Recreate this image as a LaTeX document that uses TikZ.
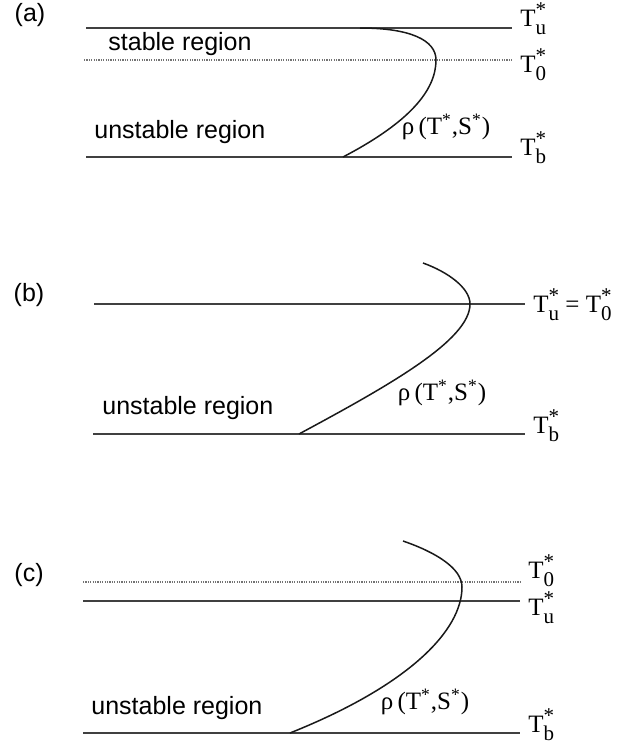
\documentclass[tikz,border=0pt]{standalone}
\usepackage{fontspec}
\setmainfont{Liberation Serif}
\newfontfamily\regionfont{Liberation Sans}

\newcommand{\Tst}[1]{T\rlap{\raisebox{4.6pt}{\fontsize{10.5}{10.5}\selectfont *}}\raisebox{-4pt}{\fontsize{10.5}{10.5}\selectfont #1}}
\newcommand{\rhoTS}{ρ\,(T\textsuperscript{*},S\textsuperscript{*})}

\begin{document}
\begin{tikzpicture}[
			x=0.5pt,
			y=-0.5pt,
			level/.style={
				line width=0.8pt,
				draw=black!75
			},
			dotlevel/.style={
				line width=0.7pt,
				draw=black!55,
				dash pattern=on 0.6pt off 0.6pt
			},
			rhocurve/.style={
				line width=0.75pt,
				draw=black!90
			},
			region/.style={
				anchor=west,
				inner sep=0pt,
				font=\regionfont\fontsize{12.5}{15}\selectfont
			},
			panel/.style={
				inner sep=0pt,
				font=\regionfont\fontsize{12.5}{15}\selectfont
			},
			tlab/.style={
				anchor=base west,
				inner xsep=4pt,
				inner ysep=0pt,
				font=\fontsize{12.5}{15}\selectfont
			},
			rhotext/.style={
				inner sep=0pt,
				font=\fontsize{12.5}{15}\selectfont
			}
			]
			\useasboundingbox (0,0) rectangle (637,745);
			
			\node[panel] (pa) at (30,15) {(a)};
			\node[region] (stablea) at (108,44) {stable region};
			\node[region] (unstablea) at (94,132) {unstable region};
			\node[tlab] (tua) at (512,26) {\Tst{u}};
			\node[tlab] (t0a) at (512,72) {\Tst{0}};
			\node[tlab] (tba) at (512,155) {\Tst{b}};
			\node[rhotext] (rhoa) at (446,127) {\rhoTS};
			\coordinate (ua) at (86,28);
			\coordinate (oa) at (84,60);
			\coordinate (ba) at (86,157);
			\draw[level] (ua) -- (ua -| tua.west);
			\draw[dotlevel] (oa) -- (oa -| t0a.west);
			\draw[level] (ba) -- (ba -| tba.west);
			\draw[rhocurve] (360,28) .. controls (410,28) and (436,40) .. (436,60)
			.. controls (436,90) and (410,122) .. (343,157);
			
			\node[panel] (pb) at (29,295) {(b)};
			\node[region] (unstableb) at (102,408) {unstable region};
			\node[tlab] (tub) at (525,312) {\Tst{u} = \Tst{0}};
			\node[tlab] (tbb) at (525,433) {\Tst{b}};
			\node[rhotext] (rhob) at (442,393) {\rhoTS};
			\coordinate (ub) at (94,304);
			\coordinate (bb) at (93,434);
			\draw[level] (ub) -- (ub -| tub.west);
			\draw[level] (bb) -- (bb -| tbb.west);
			\draw[rhocurve] (423,263) .. controls (448,272) and (470,288) .. (470,304)
			.. controls (470,340) and (390,385) .. (299,434);
			
			\node[panel] (pc) at (29,575) {(c)};
			\node[region] (unstablec) at (91,708) {unstable region};
			\node[tlab] (t0c) at (520,578) {\Tst{0}};
			\node[tlab] (tuc) at (520,615) {\Tst{u}};
			\node[tlab] (tbc) at (520,732) {\Tst{b}};
			\node[rhotext] (rhoc) at (425,702) {\rhoTS};
			\coordinate (oc) at (83,582);
			\coordinate (uc) at (83,601);
			\coordinate (bc) at (83,733);
			\draw[dotlevel] (oc) -- (oc -| t0c.west);
			\draw[level] (uc) -- (uc -| tuc.west);
			\draw[level] (bc) -- (bc -| tbc.west);
			\draw[rhocurve] (403,541) .. controls (435,552) and (462,568) .. (462,587)
			.. controls (462,630) and (410,685) .. (290,733);
		\end{tikzpicture}
\end{document}
